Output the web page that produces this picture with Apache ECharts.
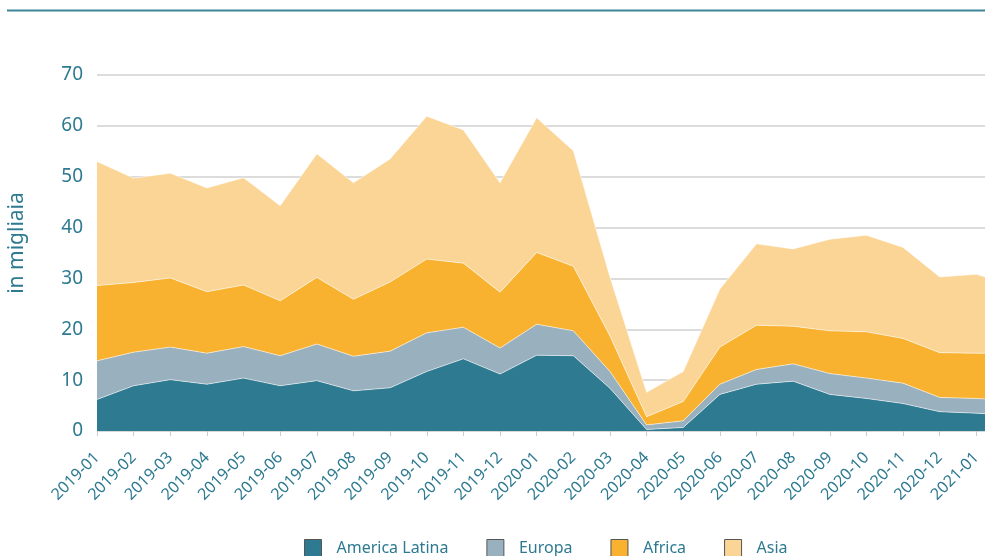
<!DOCTYPE html>
<html lang="it">
<head>
    <meta charset="UTF-8">
    <title>Ingressi per area di provenienza</title>
    <script src="https://cdn.jsdelivr.net/npm/echarts@6/dist/echarts.min.js"></script>
    <style>
        html, body { margin: 0; padding: 0; background: #fff; }
    </style>
</head>
<body>
<div id="main" style="width: 985px;height:556px;"></div>

<script type="text/javascript">
    // dati (valori in migliaia)
    var months = ['2019-01','2019-02','2019-03','2019-04','2019-05','2019-06','2019-07','2019-08','2019-09','2019-10','2019-11','2019-12',
        '2020-01','2020-02','2020-03','2020-04','2020-05','2020-06','2020-07','2020-08','2020-09','2020-10','2020-11','2020-12',
        '2021-01','2021-02'];
    var americaLatina = [6.2, 8.9, 10.1, 9.2, 10.4, 8.9, 9.9, 7.9, 8.5, 11.7, 14.2, 11.2, 14.9, 14.8, 8.4, 0.3, 0.7, 7.2, 9.2, 9.8, 7.2, 6.4, 5.4, 3.8, 3.5, 3.1];
    var europa = [7.6, 6.6, 6.4, 6.1, 6.2, 5.9, 7.2, 6.8, 7.2, 7.6, 6.2, 5.1, 6.1, 4.9, 3.3, 0.9, 1.3, 2.0, 2.9, 3.4, 4.1, 4.0, 4.0, 2.8, 2.9, 2.9];
    var africa = [14.8, 13.7, 13.6, 12.1, 12.1, 10.8, 13.1, 11.2, 13.6, 14.5, 12.6, 11.0, 14.1, 12.7, 7.0, 1.6, 3.8, 7.3, 8.7, 7.4, 8.4, 9.1, 8.8, 8.8, 8.9, 9.3];
    var asia = [24.4, 20.5, 20.6, 20.4, 21.1, 18.7, 24.3, 22.9, 24.2, 28.1, 26.2, 21.5, 26.5, 22.7, 11.6, 4.8, 5.9, 11.4, 16.0, 15.2, 18.0, 19.0, 17.9, 14.9, 15.5, 13.3];
    var seriesNames = ['America Latina', 'Europa', 'Africa', 'Asia'];
    var lastLabel = 24; // l'ultima etichetta (2021-02) resta fuori dal taglio

    var teal = '#2e7a91';
    var font = 'Noto Sans';

    function areaSeries(name, data, color) {
        return {
            name: name,
            type: 'line',
            stack: 'tot',
            data: data,
            symbol: 'none',
            color: color,
            lineStyle: { width: 1, color: 'rgba(255,255,255,0.55)' },
            areaStyle: { color: color, opacity: 1 },
            emphasis: { disabled: true }
        };
    }

    var myChart = echarts.init(document.getElementById('main'));
    var option = {
        animation: false,
        graphic: [{
            type: 'line',
            shape: { x1: 7, y1: 10.5, x2: 985, y2: 10.5 },
            style: { stroke: '#3f8599', lineWidth: 2 }
        }],
        grid: {
            left: 97,
            top: 75,
            bottom: 125,
            width: 916,
            outerBoundsMode: 'none',
            containLabel: false
        },
        legend: {
            top: 539,
            left: 304,
            padding: 0,
            icon: 'rect',
            itemWidth: 17,
            itemHeight: 17,
            itemGap: 38,
            itemStyle: { borderColor: '#555', borderWidth: 1 },
            textStyle: { color: teal, fontSize: 16, fontFamily: font, padding: [0, 0, 0, 10] },
            data: seriesNames
        },
        xAxis: {
            type: 'category',
            boundaryGap: false,
            data: months,
            axisLine: { show: true, lineStyle: { color: '#d8d8d8' } },
            axisTick: { show: true, length: 5, lineStyle: { color: '#cccccc' } },
            axisLabel: {
                rotate: 45,
                margin: 24,
                color: teal,
                fontSize: 16,
                fontFamily: font,
                interval: function (index) { return index <= lastLabel; }
            }
        },
        yAxis: {
            type: 'value',
            min: 0,
            max: 70,
            interval: 10,
            name: 'in migliaia',
            nameLocation: 'middle',
            nameGap: 69,
            nameTextStyle: { color: teal, fontSize: 21, fontFamily: font, padding: [0, 0, 0, 20] },
            axisLine: { show: false },
            axisTick: { show: false },
            axisLabel: { color: teal, fontSize: 19, fontFamily: font, margin: 14 },
            splitLine: { lineStyle: { color: '#dcdcdc', width: 2 } }
        },
        series: [
            areaSeries(seriesNames[0], americaLatina, '#2e7a91'),
            areaSeries(seriesNames[1], europa, '#99b0bf'),
            areaSeries(seriesNames[2], africa, '#f9b22f'),
            areaSeries(seriesNames[3], asia, '#fbd595')
        ]
    };
    myChart.setOption(option);
</script>
</body>
</html>
